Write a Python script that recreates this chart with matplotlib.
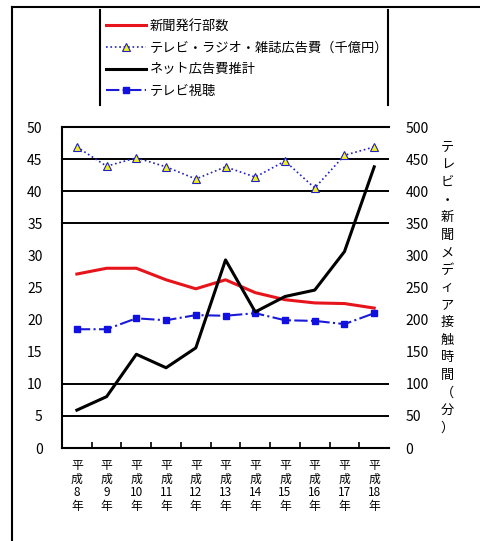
import numpy as np
import matplotlib.pyplot as plt
from matplotlib.lines import Line2D

plt.rcParams['font.family'] = ['Noto Sans CJK JP', 'DejaVu Sans']

# 年次（縦書き）
years = ['平\n成\n8\n年', '平\n成\n9\n年', '平\n成\n10\n年', '平\n成\n11\n年',
         '平\n成\n12\n年', '平\n成\n13\n年', '平\n成\n14\n年', '平\n成\n15\n年',
         '平\n成\n16\n年', '平\n成\n17\n年', '平\n成\n18\n年']

names = ['新聞発行部数', 'テレビ・ラジオ・雑誌広告費（千億円）', 'ネット広告費推計', 'テレビ視聴']

shinbun = [27.1, 28.0, 28.0, 26.2, 24.8, 26.2, 24.2, 23.1, 22.6, 22.5, 21.8]
koukoku = [46.9, 43.9, 45.2, 43.8, 41.9, 43.8, 42.2, 44.7, 40.5, 45.6, 46.9]
net = [59, 80, 146, 125, 156, 293, 212, 236, 246, 306, 438]
tv = [18.5, 18.5, 20.2, 19.9, 20.7, 20.6, 21.0, 19.9, 19.8, 19.3, 21.0]

right_label = 'テレビ・新聞メディア接触時間（分）'

fig = plt.figure(figsize=(4.81, 5.41), dpi=100)
ax = fig.add_axes([0.1289, 0.1719, 0.680, 0.5933])
x = np.arange(len(years))

# 横線（一部のみ）
for g in [5, 10, 35, 40, 45]:
    ax.axhline(g, color='black', lw=1.4, zorder=1)

l1, = ax.plot(x, shinbun, color='#e8141c', lw=2.2, zorder=3)
l2, = ax.plot(x, koukoku, color='#2020c0', lw=1.2, ls=':', marker='^', ms=5.5,
              mfc='#f0f020', mec='#2020c0', mew=0.8, zorder=3)
l4, = ax.plot(x, tv, color='#1a1ad8', lw=1.5, ls='-.', marker='s', ms=4,
              mfc='#1010e0', mec='#1010e0', zorder=3)

ax.set_xlim(-0.5, len(years) - 0.5)
ax.set_ylim(0, 50)
ax.set_yticks(np.arange(0, 51, 5))
ax.set_xticks(x)
ax.set_xticklabels(years, fontsize=8.5, linespacing=1.05)
ax.set_xticks(np.arange(-0.5, len(years) - 0.5, 1)[1:], minor=True)
ax.tick_params(axis='x', which='major', length=0, pad=8)
ax.tick_params(axis='x', which='minor', direction='in', length=4, width=1.2)
ax.tick_params(axis='y', length=0, labelsize=10, pad=14)
for s in ['left', 'bottom', 'top']:
    ax.spines[s].set_linewidth(1.5)
ax.spines['right'].set_visible(False)

ax2 = ax.twinx()
l3, = ax2.plot(x, net, color='black', lw=2.2, zorder=4)
ax2.set_ylim(0, 500)
ax2.set_yticks(np.arange(0, 501, 50))
ax2.tick_params(axis='y', length=0, labelsize=10, pad=12)
for s in ax2.spines.values():
    s.set_visible(False)

fig.text(0.930, 0.468, '\n'.join(right_label), ha='center', va='center',
         fontsize=9.5, linespacing=1.45)

fig.legend([l1, l2, l3, l4], names, loc='upper left',
           bbox_to_anchor=(0.21, 0.973), frameon=False, fontsize=9.5,
           handlelength=3.0, labelspacing=0.66, handletextpad=0.3,
           borderaxespad=0)

# 凡例の左右の枠線と外枠
fig.add_artist(Line2D([100 / 481, 100 / 481], [1 - 10 / 541, 1 - 105 / 541], color='black', lw=1.5))
fig.add_artist(Line2D([388 / 481, 388 / 481], [1 - 10 / 541, 1 - 105 / 541], color='black', lw=1.5))
fig.add_artist(Line2D([12 / 481, 12 / 481], [1 - 7 / 541, 0], color='black', lw=1.5))
fig.add_artist(Line2D([12 / 481, 1], [1 - 7 / 541, 1 - 7 / 541], color='black', lw=1.5))

fig.savefig('out.png', dpi=100)
